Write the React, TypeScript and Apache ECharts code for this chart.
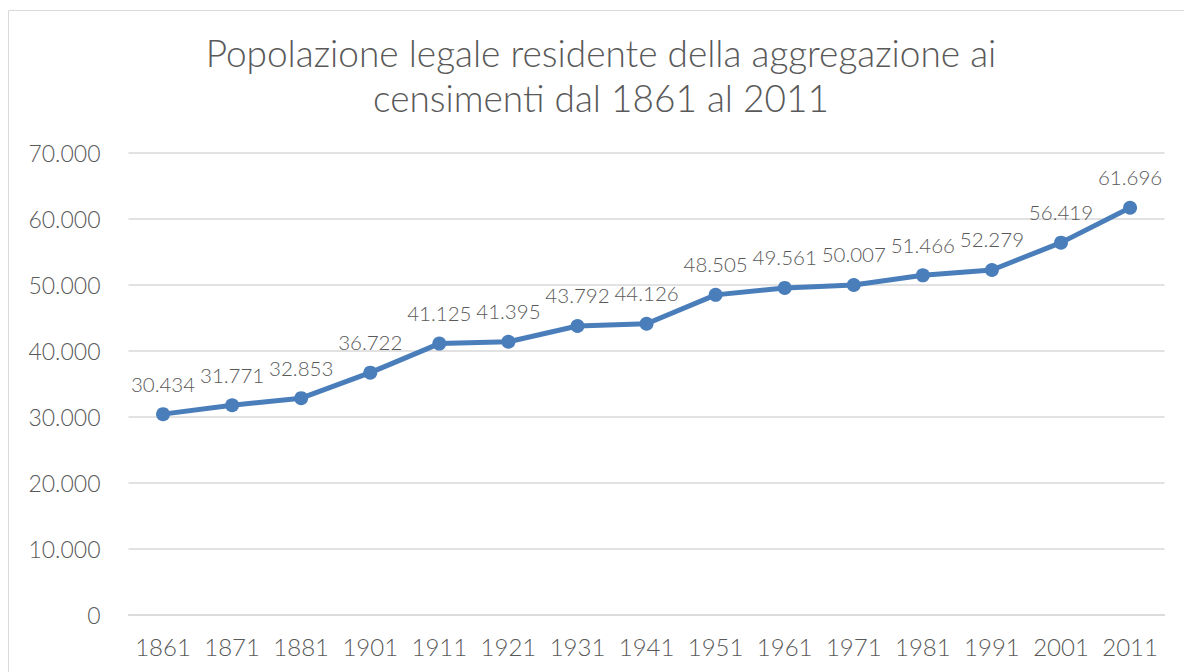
import React, { useEffect, useRef } from "react";
import * as echarts from "echarts";

const TITLE = "Popolazione legale residente della aggregazione ai\ncensimenti dal 1861 al 2011";
const years = ["1861", "1871", "1881", "1901", "1911", "1921", "1931", "1941", "1951", "1961", "1971", "1981", "1991", "2001", "2011"];
const population = [30434, 31771, 32853, 36722, 41125, 41395, 43792, 44126, 48505, 49561, 50007, 51466, 52279, 56419, 61696];
const yTicks = { min: 0, max: 70000, interval: 10000 };

const fmt = (v: number) => {
  const s = Math.round(v).toString();
  return s.replace(/\B(?=(\d{3})+(?!\d))/g, ".");
};

const FONT = "'Lato Light', Lato";
const TEXT = "#595959";

export default function App() {
  const ref = useRef<HTMLDivElement>(null);
  useEffect(() => {
    document.body.style.margin = "0";
    const chart = echarts.init(ref.current!, null, { renderer: "svg" });
    chart.setOption({
      animation: false,
      backgroundColor: "#ffffff",
      title: {
        text: TITLE,
        left: 596,
        textAlign: "center",
        top: 25,
        textStyle: {
          fontFamily: FONT,
          fontWeight: 300,
          fontSize: 37,
          lineHeight: 45,
          color: TEXT,
        },
      },
      graphic: [
        {
          type: "rect",
          shape: { x: 8.5, y: 10.5, width: 1300, height: 800 },
          style: { fill: "none", stroke: "#d9d9d9", lineWidth: 1 },
          silent: true,
          z: -1,
        },
      ],
      grid: { left: 128.5, right: 19.4, top: 153, bottom: 57, containLabel: false },
      xAxis: {
        type: "category",
        data: years,
        boundaryGap: true,
        axisLine: { show: true, lineStyle: { color: "#d9d9d9", width: 1.5 } },
        axisTick: { show: false },
        axisLabel: { interval: 0, fontFamily: FONT, fontWeight: 300, fontSize: 24, color: TEXT, margin: 19 },
      },
      yAxis: {
        type: "value",
        min: yTicks.min,
        max: yTicks.max,
        interval: yTicks.interval,
        axisLine: { show: false },
        axisTick: { show: false },
        splitLine: { lineStyle: { color: "#d9d9d9", width: 1.5 } },
        axisLabel: {
          fontFamily: FONT,
          fontWeight: 300,
          fontSize: 23,
          color: TEXT,
          margin: 28,
          formatter: (v: number) => fmt(v),
        },
      },
      series: [
        {
          type: "line",
          data: population,
          lineStyle: { color: "#4a7ebb", width: 5 },
          itemStyle: { color: "#4a7ebb" },
          symbol: "circle",
          symbolSize: 14,
          label: {
            show: true,
            position: "top",
            distance: 13,
            fontFamily: FONT,
            fontWeight: 300,
            fontSize: 20.5,
            color: TEXT,
            formatter: (p: any) => fmt(p.value),
          },
        },
      ],
    });
    return () => chart.dispose();
  }, []);
  return <div ref={ref} style={{ width: 1184, height: 672, overflow: "hidden" }} />;
}
